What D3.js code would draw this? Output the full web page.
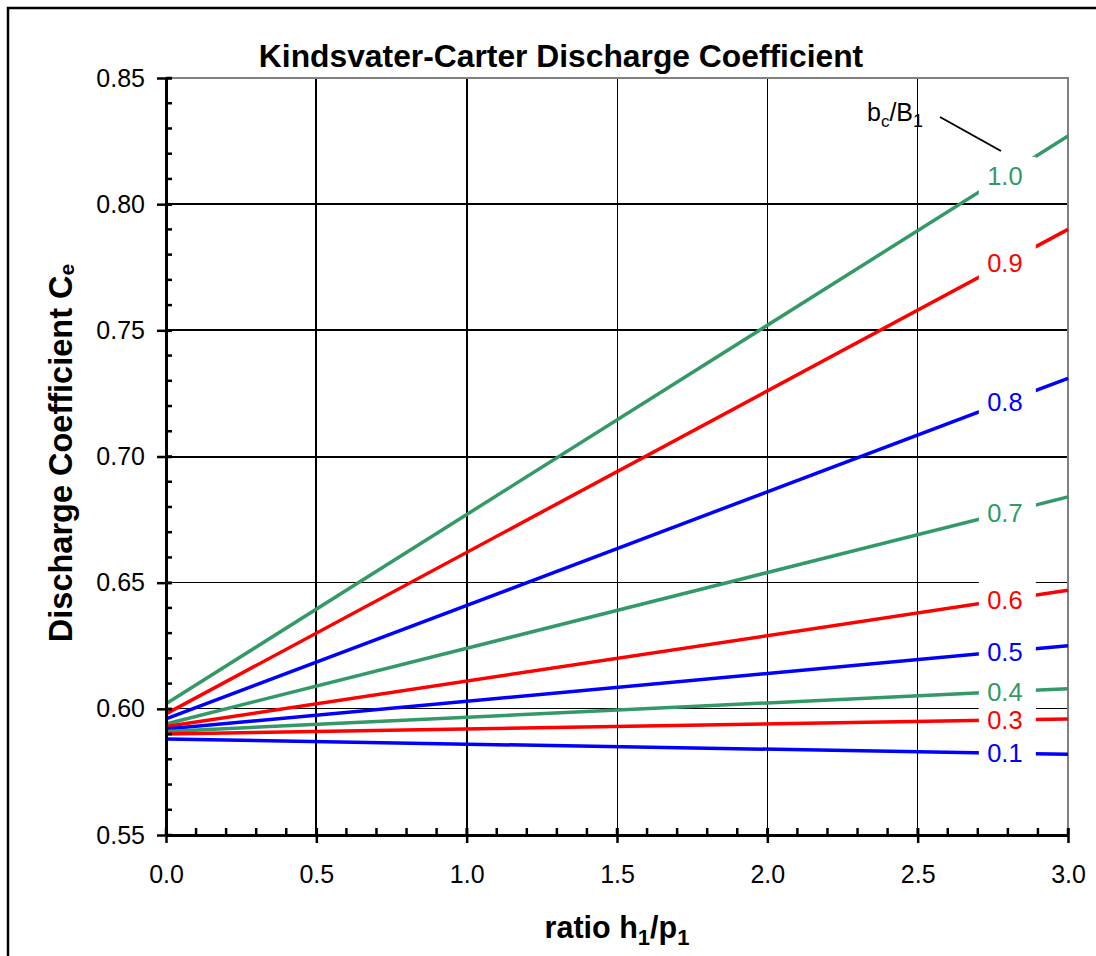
<!DOCTYPE html>
<html>
<head>
<meta charset="utf-8">
<script src="https://cdn.jsdelivr.net/npm/d3@7"></script>
<style>
  html, body { margin: 0; padding: 0; background: #fff; }
  svg { display: block; font-family: "Liberation Sans", Arial, sans-serif; }
</style>
</head>
<body>
<svg id="chart" width="1096" height="956"></svg>
<script>
// ---- data ----
const ratioRange = [0, 3];                       // h1/p1 end points of each line
const bcB1 = ["1.0", "0.9", "0.8", "0.7", "0.6", "0.5", "0.4", "0.3", "0.1"];
const ceAtStart = [0.602, 0.598, 0.596, 0.594, 0.593, 0.592, 0.591, 0.590, 0.588];
const ceAtEnd   = [0.827, 0.790, 0.731, 0.684, 0.647, 0.625, 0.608, 0.596, 0.582];
const seriesColors = ["#339966", "#FF0000", "#0000FF"];
const yTicks = [0.55, 0.60, 0.65, 0.70, 0.75, 0.80, 0.85];
const yTickLabels = ["0.55", "0.60", "0.65", "0.70", "0.75", "0.80", "0.85"];
const xTicks = [0, 0.5, 1.0, 1.5, 2.0, 2.5, 3.0];
const xTickLabels = ["0.0", "0.5", "1.0", "1.5", "2.0", "2.5", "3.0"];
const labelAt = 2.79; // h1/p1 where the curve labels sit

// ---- layout ----
const svg = d3.select("#chart");
const L = 166, R = 1068, T = 78, B = 835;
const x = d3.scaleLinear().domain([0, 3]).range([L, R]);
const y = d3.scaleLinear().domain([0.55, 0.85]).range([B, T]);

// outer frame
svg.append("rect").attr("x", 8).attr("y", 8).attr("width", 1200).attr("height", 1200)
  .attr("fill", "none").attr("stroke", "#000").attr("stroke-width", 2.5);

const g = svg.append("g");

// grid
const gridXWidth = [0, 2, 2, 1, 1, 1, 0];
xTicks.slice(1, -1).forEach((v, i) => {
  g.append("line").attr("x1", x(v)).attr("x2", x(v)).attr("y1", T).attr("y2", B)
    .attr("stroke", "#000").attr("stroke-width", gridXWidth[i + 1]).attr("shape-rendering", "crispEdges");
});
const gridYWidth = [0, 1, 1, 2, 2, 2, 0];
yTicks.slice(1, -1).forEach((v, i) => {
  g.append("line").attr("x1", L).attr("x2", R).attr("y1", y(v)).attr("y2", y(v))
    .attr("stroke", "#000").attr("stroke-width", gridYWidth[i + 1]).attr("shape-rendering", "crispEdges");
});

// plot frame top/right (gray)
g.append("line").attr("x1", L).attr("x2", R + 1).attr("y1", T).attr("y2", T)
  .attr("stroke", "#808080").attr("stroke-width", 2);
g.append("line").attr("x1", R).attr("x2", R).attr("y1", T).attr("y2", B)
  .attr("stroke", "#808080").attr("stroke-width", 2);

// series lines
const series = bcB1.map((k, i) => ({
  key: k,
  color: seriesColors[i % 3],
  pts: [[ratioRange[0], ceAtStart[i]], [ratioRange[1], ceAtEnd[i]]]
}));
const line = d3.line().x(d => x(d[0])).y(d => y(d[1]));
g.selectAll("path.series").data(series).join("path")
  .attr("class", "series")
  .attr("d", d => line(d.pts))
  .attr("fill", "none").attr("stroke", d => d.color).attr("stroke-width", 3.5);

// axes
const yAxisMinor = d3.range(0.55, 0.8501, 0.01);
const yAx = d3.axisLeft(y).tickValues(yTicks).tickFormat((d, i) => yTickLabels[i]).tickSize(9).tickSizeOuter(0).tickPadding(12);
const yG = svg.append("g").attr("transform", `translate(${L},0)`).call(yAx);
yG.selectAll(".tick line").attr("x2", -9).attr("x1", 6).attr("stroke-width", 2.5);
yG.select(".domain").attr("stroke-width", 3);
yG.selectAll(".tick text").attr("font-size", 25).attr("font-family", "Liberation Sans, Arial, sans-serif").attr("fill", "#000");
svg.append("g").selectAll("line").data(yAxisMinor).join("line")
  .attr("x1", L).attr("x2", L + 6).attr("y1", d => y(d)).attr("y2", d => y(d))
  .attr("stroke", "#000").attr("stroke-width", 2.5);

const xAxisMinor = d3.range(0, 3.001, 0.1);
const xAx = d3.axisBottom(x).tickValues(xTicks).tickFormat((d, i) => xTickLabels[i]).tickSize(8).tickSizeOuter(0).tickPadding(22);
const xG = svg.append("g").attr("transform", `translate(0,${B})`).call(xAx);
xG.selectAll(".tick line").attr("y1", -7).attr("y2", 8).attr("stroke-width", 2.5);
xG.select(".domain").attr("stroke-width", 3);
xG.selectAll(".tick text").attr("font-size", 25).attr("font-family", "Liberation Sans, Arial, sans-serif").attr("fill", "#000");
svg.append("g").selectAll("line").data(xAxisMinor).join("line")
  .attr("x1", d => x(d)).attr("x2", d => x(d)).attr("y1", B - 7).attr("y2", B)
  .attr("stroke", "#000").attr("stroke-width", 2.5);

// curve labels with white boxes
const lab = svg.append("g");
series.forEach((s, i) => {
  const v = d3.interpolateNumber(ceAtStart[i], ceAtEnd[i])(labelAt / 3);
  const cx = x(labelAt), cy = y(v);
  lab.append("rect").attr("x", cx - 26).attr("y", cy - 19).attr("width", 57).attr("height", 38).attr("fill", "#fff");
  lab.append("text").attr("x", cx).attr("y", cy).attr("dy", "0.36em")
    .attr("text-anchor", "middle").attr("font-size", 25.5).attr("fill", s.color).text(s.key);
});

// bc/B1 legend label and leader
const bt = svg.append("text").attr("x", 867).attr("y", 121).attr("font-size", 25).attr("fill", "#000");
bt.append("tspan").text("b");
bt.append("tspan").attr("font-size", 17).attr("dy", 6).text("c");
bt.append("tspan").attr("dy", -6).text("/B");
bt.append("tspan").attr("font-size", 18).attr("dy", 6).text("1");
svg.append("line").attr("x1", 940).attr("y1", 117).attr("x2", 1001).attr("y2", 151)
  .attr("stroke", "#000").attr("stroke-width", 2);

// title
svg.append("text").attr("x", 561).attr("y", 67).attr("text-anchor", "middle")
  .attr("font-size", 31.8).attr("font-weight", "bold").text("Kindsvater-Carter Discharge Coefficient");

// x title
const xt = svg.append("text").attr("x", 617).attr("y", 938).attr("text-anchor", "middle")
  .attr("font-size", 30.5).attr("font-weight", "bold");
xt.append("tspan").text("ratio h");
xt.append("tspan").attr("font-size", 22).attr("dy", 7).text("1");
xt.append("tspan").attr("dy", -7).text("/p");
xt.append("tspan").attr("font-size", 22).attr("dy", 7).text("1");

// y title
const yt = svg.append("text").attr("transform", "translate(72,453) rotate(-90)").attr("text-anchor", "middle")
  .attr("font-size", 32.5).attr("font-weight", "bold");
yt.append("tspan").text("Discharge Coefficient C");
yt.append("tspan").attr("font-size", 21).attr("dy", 2).text("e");
</script>
</body>
</html>
